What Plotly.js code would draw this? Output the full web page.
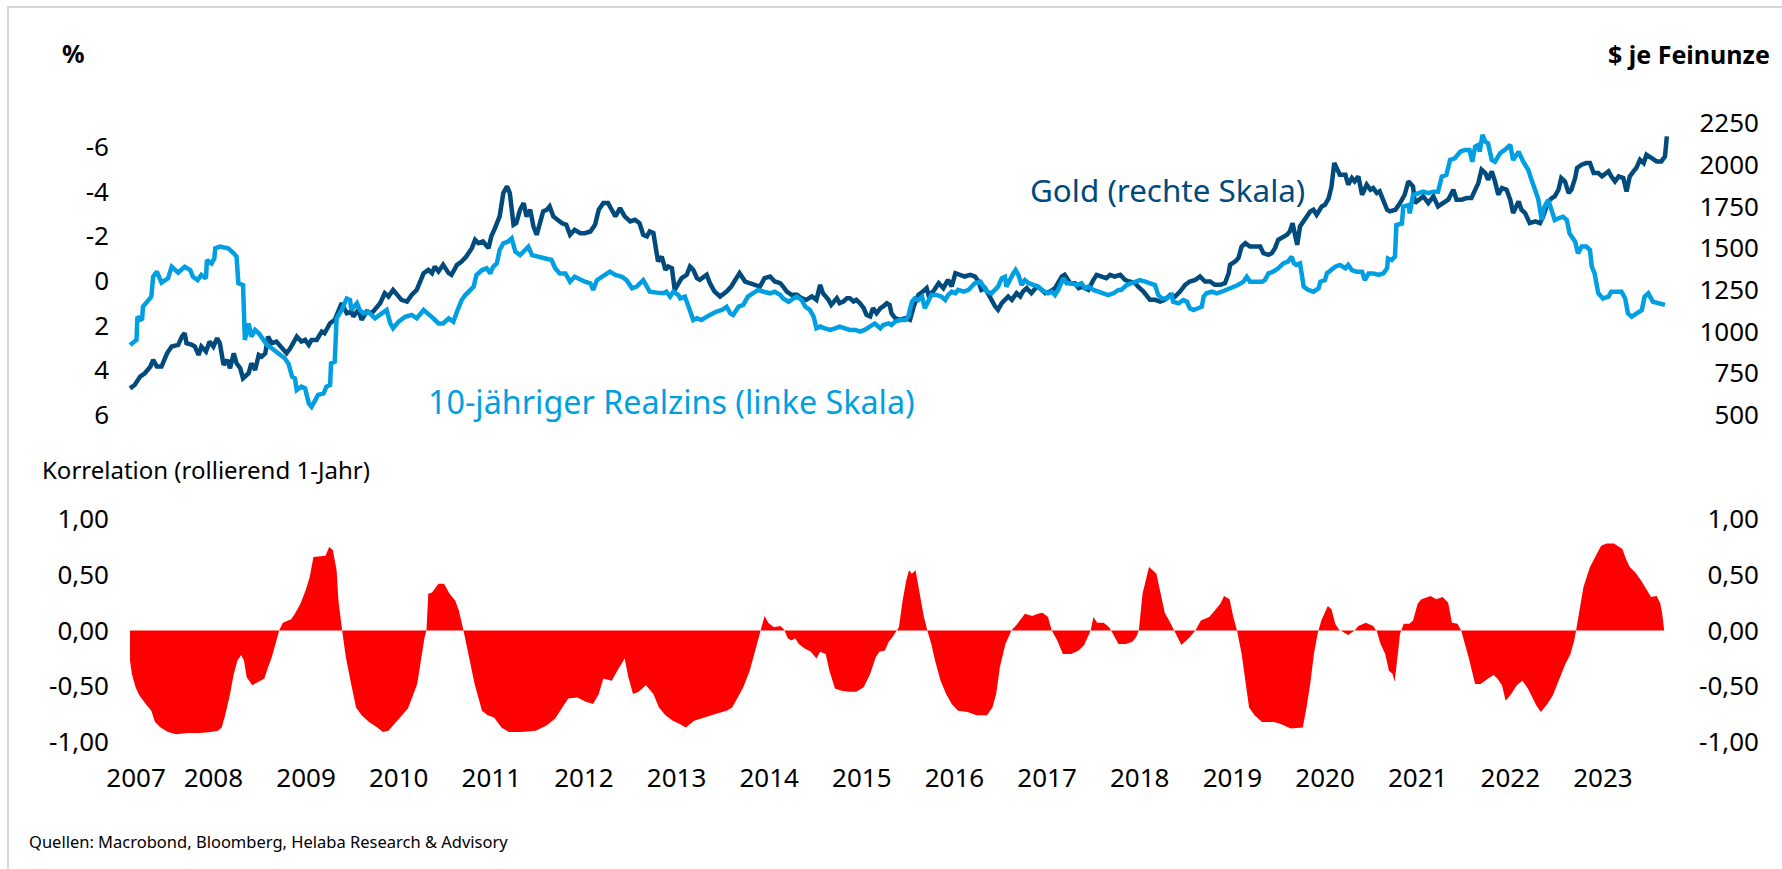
<!DOCTYPE html>
<html>
<head>
<meta charset="utf-8">
<script src="https://cdn.plot.ly/plotly-3.0.1.min.js"></script>
<style>
html,body{margin:0;padding:0;background:#fff;overflow:hidden;}
#chart{width:1782px;height:869px;}
#frame{position:absolute;left:7px;top:6px;width:1800px;height:900px;border-left:2px solid #d6d6d6;border-top:2px solid #d6d6d6;pointer-events:none;}
</style>
</head>
<body>
<div id="chart"></div>
<div id="frame"></div>
<script>
// ---- Data (decimal years) ----
const rateT = [2007.60,2007.67,2007.68,2007.73,2007.74,2007.78,2007.83,2007.85,2007.89,2007.94,2008.01,2008.05,2008.12,2008.19,2008.25,2008.28,2008.33,2008.37,2008.42,2008.43,2008.48,2008.51,2008.52,2008.57,2008.66,2008.72,2008.75,2008.77,2008.82,2008.84,2008.88,2008.91,2008.95,2008.99,2009.04,2009.08,2009.13,2009.18,2009.22,2009.27,2009.31,2009.35,2009.38,2009.40,2009.45,2009.49,2009.53,2009.56,2009.60,2009.63,2009.69,2009.72,2009.76,2009.77,2009.81,2009.83,2009.885,2009.94,2009.975,2009.99,2010.05,2010.08,2010.12,2010.17,2010.245,2010.30,
2010.37,2010.41,2010.44,2010.50,2010.57,2010.64,2010.695,2010.77,2010.82,2010.875,2010.93,2010.98,2011.04,2011.09,2011.13,2011.18,2011.22,2011.27,2011.31,2011.34,2011.40,2011.45,2011.49,2011.52,2011.56,2011.59,2011.63,2011.68,2011.72,2011.76,2011.81,2011.865,2011.90,2011.94,2012.01,2012.08,2012.15,2012.19,2012.24,2012.30,2012.35,2012.40,2012.46,2012.51,2012.57,2012.60,2012.64,2012.69,2012.75,2012.78,2012.84,2012.91,2012.96,2013.00,2013.02,
2013.07,2013.14,2013.18,2013.21,2013.285,2013.36,2013.39,2013.43,2013.465,2013.52,2013.54,2013.59,2013.63,2013.66,2013.68,2013.72,2013.77,2013.825,2013.88,2013.93,2013.99,2014.04,2014.08,2014.11,2014.17,2014.22,2014.27,2014.33,2014.38,2014.44,2014.51,2014.56,2014.62,2014.65,2014.71,2014.76,2014.80,2014.85,2014.89,2014.94,2014.98,2015.01,2015.05,2015.10,2015.16,2015.21,2015.26,2015.32,2015.37,2015.43,2015.48,2015.53,2015.59,2015.64,2015.70,2015.73,2015.79,
2015.82,2015.86,2015.91,2015.97,2016.00,2016.04,2016.07,2016.11,2016.15,2016.18,2016.22,2016.25,2016.31,2016.36,2016.40,2016.43,2016.47,2016.51,2016.54,2016.60,2016.65,2016.69,2016.72,2016.78,2016.81,2016.85,2016.90,2016.94,2016.97,2017.01,2017.045,2017.06,2017.10,2017.135,2017.16,2017.19,2017.225,2017.26,2017.30,2017.35,2017.405,2017.44,2017.48,2017.51,2017.55,2017.585,2017.62,2017.675,2017.71,2017.765,2017.82,2017.87,2017.91,2017.945,2018.00,2018.05,2018.11,2018.16,2018.215,2018.27,2018.30,2018.36,2018.41,2018.47,
2018.50,2018.56,2018.61,2018.665,2018.70,2018.74,2018.79,2018.845,2018.86,2018.92,2018.97,2019.01,2019.04,2019.08,2019.13,2019.17,2019.19,2019.22,2019.28,2019.33,2019.385,2019.44,2019.51,2019.56,2019.62,2019.655,2019.69,2019.745,2019.82,2019.85,2019.89,2019.94,2019.995,2020.05,2020.10,2020.14,2020.165,2020.19,2020.23,2020.27,2020.32,2020.375,2020.43,2020.45,2020.50,2020.52,2020.57,2020.61,2020.66,2020.72,2020.75,2020.79,2020.84,2020.90,2020.93,2020.97,2021.02,2021.08,2021.13,2021.17,2021.18,2021.22,2021.255,
2021.27,2021.33,2021.345,2021.40,2021.415,2021.45,2021.51,2021.56,2021.615,2021.67,2021.72,2021.76,2021.81,2021.85,2021.90,2021.96,2022.01,2022.06,2022.09,2022.12,2022.155,2022.17,2022.20,2022.23,2022.26,2022.30,2022.335,2022.39,2022.44,2022.50,2022.53,2022.59,2022.64,2022.695,2022.73,2022.77,2022.80,2022.84,2022.87,2022.91,2022.95,2022.98,2023.02,2023.07,2023.11,2023.14,2023.20,2023.23,2023.27,2023.32,2023.36,2023.38,2023.41,2023.45,2023.50,2023.56,2023.59,2023.65,2023.70,2023.74,2023.77,2023.81,2023.86,2023.92,2023.95,2023.99,2024.04,2024.10,2024.13,2024.17];
const rateV = [2.87,2.64,1.60,1.75,1.15,0.93,0.70,-0.19,-0.42,0.07,-0.12,-0.64,-0.37,-0.64,-0.49,-0.19,-0.04,-0.27,-0.12,-0.94,-0.79,-1.01,-1.46,-1.54,-1.46,-1.24,-1.09,0.10,0.18,2.64,1.90,2.49,2.19,2.34,2.64,2.87,3.01,3.16,3.31,3.46,3.69,4.28,4.36,4.88,4.73,4.81,5.48,5.63,5.33,5.10,5.03,4.73,4.66,3.69,3.61,1.67,1.30,0.78,0.85,1.30,1.00,1.30,1.45,1.37,1.67,1.50,
1.30,1.90,2.12,1.82,1.60,1.52,1.67,1.30,1.45,1.67,1.90,1.90,1.67,1.82,1.37,0.85,0.63,0.40,0.25,-0.27,-0.49,-0.57,-0.34,-0.64,-0.79,-1.39,-1.69,-1.76,-1.91,-1.31,-1.16,-1.39,-1.54,-1.16,-1.09,-1.01,-0.94,-0.57,-0.34,-0.34,0.03,-0.19,-0.04,0.03,0.10,0.40,-0.04,-0.19,-0.34,-0.42,-0.27,-0.19,-0.04,0.18,0.33,
0.25,-0.04,0.25,0.48,0.52,0.55,0.48,0.70,0.48,0.63,0.78,0.70,1.15,1.45,1.75,1.67,1.75,1.60,1.45,1.37,1.30,1.15,1.45,1.52,1.15,1.07,0.70,0.55,0.40,0.48,0.55,0.48,0.63,0.78,0.93,0.78,0.70,0.85,1.15,1.30,1.60,2.12,2.04,2.12,2.19,2.12,2.04,2.12,2.19,2.19,2.27,2.19,2.04,1.90,2.12,1.97,1.90,
1.97,1.82,1.75,1.75,1.60,0.93,0.78,0.85,0.70,1.22,0.85,0.63,0.63,0.70,0.85,0.63,0.48,0.55,0.40,0.48,0.40,0.25,0.10,0.03,0.25,0.48,0.55,0.40,0.25,-0.12,-0.19,0.25,-0.12,-0.34,-0.49,-0.27,0.18,-0.04,0.10,0.18,0.25,0.40,0.48,0.55,0.48,0.63,0.40,-0.12,0.10,0.10,0.18,0.10,0.33,0.25,0.40,0.48,0.55,0.63,0.55,0.40,0.40,0.18,0.10,0.03,
-0.04,0.03,0.10,0.18,0.63,0.78,0.78,0.63,0.93,1.00,0.85,0.93,1.22,1.30,1.22,1.15,0.70,0.55,0.48,0.55,0.48,0.40,0.25,0.18,0.03,-0.19,0.03,0.03,0.03,-0.04,-0.34,-0.42,-0.57,-0.79,-0.87,-1.09,-0.79,-0.72,-0.79,0.25,0.40,0.48,0.33,0.03,-0.04,-0.34,-0.49,-0.64,-0.72,-0.57,-0.72,-0.49,-0.42,-0.42,-0.04,-0.34,-0.34,-0.27,-0.34,-0.57,-1.01,-0.94,-1.09,
-2.51,-2.58,-3.33,-3.40,-3.03,-3.85,-3.93,-4.00,-3.93,-4.00,-4.00,-4.67,-4.75,-5.42,-5.49,-5.79,-5.87,-5.87,-5.34,-6.01,-6.09,-5.79,-6.54,-6.24,-6.16,-5.42,-5.34,-5.72,-5.87,-6.09,-5.42,-5.79,-5.34,-4.97,-4.52,-4.07,-3.70,-2.73,-3.33,-3.63,-3.03,-2.73,-2.81,-2.88,-2.73,-2.13,-1.76,-1.24,-1.54,-1.54,-1.39,-0.64,-0.34,0.55,0.78,0.70,0.48,0.48,0.48,0.78,1.45,1.60,1.45,1.30,0.70,0.55,0.93,1.00,1.00,1.07];

const goldT = [2007.60,2007.65,2007.71,2007.76,2007.82,2007.85,2007.89,2007.94,2008.00,2008.05,2008.12,2008.16,2008.19,2008.21,2008.27,2008.30,2008.34,2008.37,2008.42,2008.46,2008.50,2008.54,2008.57,2008.61,2008.65,2008.68,2008.72,2008.75,2008.79,2008.82,2008.88,2008.91,2008.95,2008.99,2009.02,2009.06,2009.09,2009.13,2009.18,2009.24,2009.29,2009.33,2009.40,2009.45,2009.49,2009.53,2009.56,2009.615,2009.67,2009.70,2009.76,2009.81,2009.885,2009.94,2009.99,2010.01,2010.065,2010.10,2010.155,2010.21,2010.26,2010.30,2010.35,
2010.39,2010.44,2010.48,2010.53,2010.59,2010.64,2010.695,2010.77,2010.82,2010.86,2010.89,2010.93,2010.98,2011.04,2011.07,2011.13,2011.18,2011.23,2011.29,2011.325,2011.36,2011.41,2011.47,2011.50,2011.54,2011.59,2011.63,2011.67,2011.70,2011.72,2011.74,2011.77,2011.81,2011.85,2011.88,2011.92,2011.955,2011.99,2012.03,2012.06,2012.10,2012.13,2012.17,2012.21,2012.26,2012.31,2012.35,2012.40,2012.46,2012.51,2012.57,2012.62,2012.66,2012.71,2012.76,2012.80,2012.84,2012.89,2012.94,2013.00,2013.05,
2013.10,2013.14,2013.18,2013.21,2013.25,2013.285,2013.30,2013.34,2013.38,2013.41,2013.45,2013.48,2013.52,2013.555,2013.61,2013.645,2013.68,2013.72,2013.75,2013.79,2013.825,2013.86,2013.91,2013.97,2014.00,2014.04,2014.09,2014.15,2014.18,2014.24,2014.29,2014.35,2014.40,2014.45,2014.51,2014.56,2014.62,2014.65,2014.69,2014.74,2014.80,2014.85,2014.90,2014.96,2015.01,2015.05,2015.08,2015.14,2015.17,2015.23,2015.26,2015.30,2015.34,2015.37,2015.41,2015.44,2015.48,2015.52,2015.55,2015.59,2015.62,2015.66,2015.70,2015.73,2015.77,2015.80,
2015.82,2015.86,2015.91,2015.97,2016.02,2016.06,2016.11,2016.16,2016.20,2016.22,2016.27,2016.33,2016.38,2016.43,2016.47,2016.51,2016.56,2016.61,2016.67,2016.72,2016.76,2016.79,2016.83,2016.87,2016.90,2016.94,2016.97,2017.01,2017.045,2017.08,2017.12,2017.17,2017.21,2017.24,2017.28,2017.33,2017.39,2017.42,2017.48,2017.53,2017.585,2017.62,2017.66,2017.69,2017.75,2017.80,2017.84,2017.89,2017.945,2018.00,2018.035,2018.09,2018.14,2018.18,2018.23,2018.29,2018.34,2018.39,2018.45,2018.48,2018.54,2018.61,
2018.665,2018.72,2018.77,2018.83,2018.88,2018.935,2018.99,2019.04,2019.10,2019.15,2019.205,2019.26,2019.31,2019.37,2019.42,2019.46,2019.475,2019.53,2019.565,2019.60,2019.64,2019.69,2019.745,2019.80,2019.835,2019.89,2019.925,2019.96,2019.995,2020.03,2020.09,2020.12,2020.15,2020.18,2020.20,2020.23,2020.27,2020.30,2020.34,2020.375,2020.41,2020.465,2020.50,2020.54,2020.57,2020.60,2020.63,2020.66,2020.72,2020.75,2020.79,2020.82,2020.86,2020.90,2020.95,2020.99,2021.02,2021.06,2021.09,2021.13,2021.17,2021.20,2021.26,2021.31,2021.36,
2021.40,2021.45,2021.47,2021.51,2021.56,2021.615,2021.67,2021.72,2021.78,2021.83,2021.885,2021.92,2021.975,2022.03,2022.08,2022.12,2022.155,2022.19,2022.23,2022.26,2022.30,2022.335,2022.37,2022.41,2022.46,2022.50,2022.53,2022.59,2022.62,2022.66,2022.71,2022.77,2022.82,2022.855,2022.91,2022.95,2022.98,2023.02,2023.05,2023.09,2023.13,2023.16,2023.20,2023.22,2023.27,2023.32,2023.36,2023.40,2023.45,2023.49,2023.52,2023.56,2023.59,2023.63,2023.67,2023.72,2023.755,2023.79,2023.83,2023.86,2023.90,2023.94,2023.97,2024.03,2024.08,2024.13,2024.17,2024.19];
const goldV = [660,680,730,750,790,830,790,790,870,910,920,970,990,930,920,910,860,910,880,940,910,960,930,800,830,780,870,810,780,720,750,810,770,860,850,870,970,930,940,900,870,900,970,940,950,920,950,950,1000,990,1050,1070,1170,1110,1120,1090,1130,1070,1120,1110,1140,1170,1230,
1210,1250,1220,1190,1180,1220,1250,1350,1370,1350,1390,1360,1400,1350,1340,1400,1420,1450,1500,1550,1530,1540,1500,1570,1620,1690,1830,1870,1830,1730,1640,1650,1730,1770,1690,1730,1630,1580,1650,1720,1730,1750,1690,1670,1650,1640,1580,1610,1590,1590,1600,1640,1730,1770,1770,1730,1690,1740,1690,1660,1670,
1650,1580,1570,1600,1590,1470,1420,1450,1370,1390,1380,1250,1290,1320,1340,1390,1370,1320,1310,1330,1340,1290,1240,1210,1220,1240,1270,1320,1350,1300,1290,1280,1270,1320,1330,1300,1290,1270,1240,1220,1220,1200,1190,1210,1190,1280,1230,1190,1160,1200,1170,1180,1200,1200,1180,1190,1170,1140,1100,1090,1140,1110,1140,1150,1170,1160,
1110,1080,1070,1080,1070,1150,1220,1240,1260,1220,1240,1290,1260,1310,1270,1350,1340,1330,1340,1330,1300,1250,1260,1220,1180,1150,1130,1170,1190,1210,1190,1230,1210,1240,1260,1230,1270,1260,1230,1240,1260,1290,1330,1340,1290,1290,1260,1270,1250,1310,1340,1330,1320,1340,1330,1340,1310,1300,1290,1270,1240,1190,
1190,1180,1190,1220,1210,1240,1280,1300,1310,1330,1300,1300,1280,1280,1290,1350,1400,1420,1440,1510,1530,1510,1510,1510,1470,1460,1470,1500,1550,1560,1580,1600,1650,1570,1520,1630,1660,1690,1720,1730,1700,1750,1760,1800,1870,2010,1980,1940,1940,1880,1920,1900,1930,1820,1880,1850,1860,1830,1840,1790,1730,1720,1730,1770,1820,
1900,1870,1770,1790,1810,1770,1810,1750,1770,1790,1850,1790,1790,1800,1800,1850,1890,1970,1950,1910,1960,1900,1820,1860,1850,1790,1710,1780,1730,1710,1650,1660,1650,1690,1780,1800,1810,1850,1920,1900,1830,1850,1920,1980,2000,2010,2010,1950,1950,1930,1940,1960,1930,1900,1930,1920,1840,1930,1960,1980,2030,2010,2060,2040,2020,2020,2050,2170];

const corrT = [2007.60,2007.62,2007.66,2007.70,2007.77,2007.83,2007.87,2007.93,2008.01,2008.10,2008.22,2008.35,2008.47,2008.55,2008.59,2008.63,2008.68,2008.72,2008.76,2008.80,2008.83,2008.86,2008.92,2008.98,2009.05,2009.09,2009.13,2009.17,2009.21,2009.25,2009.34,2009.38,2009.44,2009.50,2009.54,2009.58,2009.67,2009.71,2009.75,2009.79,2009.83,2009.85,2009.89,2009.93,2009.98,2010.04,2010.10,2010.18,2010.27,2010.33,2010.39,2010.45,2010.53,2010.60,2010.66,2010.70,2010.74,2010.78,2010.80,2010.82,2010.86,2010.93,2010.99,2011.05,2011.11,2011.15,2011.20,2011.26,2011.32,2011.40,2011.46,2011.53,2011.61,2011.69,2011.82,2011.98,2012.10,2012.19,2012.27,2012.33,2012.43,2012.52,2012.60,2012.66,
2012.71,2012.80,2012.86,2012.90,2012.94,2012.98,2013.03,2013.09,2013.17,2013.25,2013.31,2013.38,2013.46,2013.54,2013.60,2013.69,2013.79,2013.91,2014.04,2014.10,2014.16,2014.22,2014.29,2014.35,2014.41,2014.45,2014.49,2014.55,2014.62,2014.66,2014.70,2014.74,2014.78,2014.82,2014.88,2014.95,2015.01,2015.05,2015.11,2015.15,2015.21,2015.28,2015.36,2015.44,2015.52,2015.59,2015.65,2015.69,2015.75,2015.79,2015.83,2015.90,2015.94,2015.98,2016.01,2016.04,2016.08,2016.12,2016.17,2016.21,2016.25,2016.29,2016.35,2016.41,2016.47,2016.54,2016.64,2016.74,2016.85,2016.91,2016.95,2016.99,2017.05,2017.115,2017.18,2017.26,2017.34,2017.40,2017.45,2017.51,2017.55,2017.61,2017.67,2017.76,2017.84,2017.90,2017.94,2017.97,2018.00,2018.04,2018.11,2018.17,2018.21,2018.27,2018.35,2018.42,2018.46,2018.49,2018.53,2018.60,2018.68,2018.73,2018.77,2018.83,2018.87,2018.95,
2019.04,2019.10,2019.16,2019.25,2019.31,2019.37,2019.41,2019.47,2019.51,2019.55,2019.60,2019.64,2019.68,2019.74,2019.82,2019.95,2020.03,2020.13,2020.26,2020.30,2020.34,2020.38,2020.42,2020.46,2020.53,2020.57,2020.61,2020.65,2020.69,2020.75,2020.82,2020.86,2020.94,2021.02,2021.06,2021.10,2021.15,2021.19,2021.23,2021.25,2021.27,2021.31,2021.35,2021.41,2021.45,2021.50,2021.54,2021.64,2021.70,2021.77,2021.83,2021.87,2021.93,2021.97,2022.01,2022.05,2022.12,2022.18,2022.26,2022.32,2022.36,2022.41,2022.45,2022.51,2022.57,2022.63,2022.69,2022.74,2022.78,2022.83,2022.90,2022.96,2023.02,2023.09,2023.15,2023.19,2023.21,2023.25,2023.29,2023.36,2023.42,2023.48,2023.54,2023.62,2023.71,2023.75,2023.79,2023.85,2023.91,2023.98,2024.02,2024.08,2024.12,2024.14,2024.16];
const corrV = [-0.27,-0.39,-0.51,-0.58,-0.66,-0.72,-0.82,-0.87,-0.91,-0.93,-0.92,-0.92,-0.91,-0.90,-0.87,-0.75,-0.57,-0.39,-0.27,-0.22,-0.27,-0.42,-0.49,-0.46,-0.43,-0.33,-0.24,-0.12,0.00,0.07,0.10,0.15,0.24,0.37,0.48,0.66,0.67,0.67,0.75,0.72,0.54,0.27,0.00,-0.24,-0.45,-0.69,-0.76,-0.82,-0.87,-0.91,-0.90,-0.84,-0.76,-0.70,-0.57,-0.48,-0.27,-0.06,0.00,0.33,0.34,0.42,0.42,0.33,0.27,0.18,0.00,-0.24,-0.48,-0.72,-0.76,-0.78,-0.87,-0.91,-0.91,-0.90,-0.85,-0.79,-0.69,-0.61,-0.60,-0.64,-0.66,-0.57,
-0.43,-0.45,-0.36,-0.30,-0.25,-0.42,-0.57,-0.55,-0.49,-0.57,-0.69,-0.76,-0.81,-0.84,-0.87,-0.81,-0.78,-0.75,-0.72,-0.69,-0.60,-0.51,-0.36,-0.18,-0.01,0.13,0.07,0.03,0.04,0.01,-0.07,-0.09,-0.07,-0.12,-0.16,-0.19,-0.25,-0.19,-0.21,-0.36,-0.52,-0.54,-0.55,-0.55,-0.51,-0.39,-0.24,-0.19,-0.18,-0.10,-0.06,0.03,0.27,0.45,0.54,0.51,0.54,0.36,0.12,-0.01,-0.12,-0.27,-0.45,-0.57,-0.66,-0.72,-0.73,-0.76,-0.76,-0.69,-0.57,-0.33,-0.12,0.00,0.06,0.15,0.13,0.15,0.16,0.12,0.00,-0.09,-0.21,-0.21,-0.18,-0.13,-0.06,0.00,0.12,0.07,0.07,0.03,-0.03,-0.12,-0.12,-0.10,-0.06,0.00,0.33,0.57,0.51,0.33,0.16,0.07,0.00,-0.13,
-0.06,0.00,0.09,0.12,0.18,0.24,0.31,0.28,0.12,0.00,-0.21,-0.45,-0.69,-0.76,-0.82,-0.82,-0.84,-0.88,-0.87,-0.69,-0.48,-0.21,-0.03,0.09,0.22,0.19,0.06,0.01,-0.01,-0.04,0.00,0.04,0.07,0.04,-0.01,-0.12,-0.21,-0.36,-0.39,-0.46,-0.33,-0.03,0.06,0.06,0.09,0.24,0.28,0.31,0.28,0.30,0.25,0.07,0.06,0.00,-0.12,-0.24,-0.48,-0.48,-0.43,-0.40,-0.43,-0.49,-0.63,-0.57,-0.49,-0.45,-0.52,-0.61,-0.67,-0.73,-0.66,-0.58,-0.46,-0.31,-0.21,-0.09,0.00,0.21,0.39,0.57,0.67,0.76,0.78,0.78,0.73,0.64,0.57,0.52,0.45,0.36,0.30,0.31,0.24,0.15,0.01];

// ---- Ticks ----
const yearVals = [2007.665,2008.5,2009.5,2010.5,2011.5,2012.5,2013.5,2014.5,2015.5,2016.5,2017.5,2018.5,2019.5,2020.5,2021.5,2022.5,2023.5];
const yearText = ['2007','2008','2009','2010','2011','2012','2013','2014','2015','2016','2017','2018','2019','2020','2021','2022','2023'];
const rateTicks = [-6,-4,-2,0,2,4,6];
const rateTickText = ['-6','-4','-2','0','2','4','6'];
const goldTicks = [500,750,1000,1250,1500,1750,2000,2250];
const corrTicks = [-1,-0.5,0,0.5,1];
const corrTickText = ['-1,00','-0,50','0,00','0,50','1,00'];

// ---- Layout helpers ----
const W = 1782, H = 869;
const px = v => v / W;
const py = v => 1 - v / H;
const FONT = 'Noto Sans, sans-serif';
const DARK = '#004a7c';
const LIGHT = '#009fe3';
const tickFont = {family: FONT, size: 26, color: '#000'};

const axCommon = {showgrid:false, zeroline:false, showline:false, ticks:'', fixedrange:true};

const traces = [
  {x: corrT, y: corrV, xaxis:'x', yaxis:'y3', type:'scatter', mode:'lines', fill:'tozeroy',
   fillcolor:'#ff0000', line:{width:0, color:'#ff0000'}, hoverinfo:'skip', showlegend:false},
  {x: corrT, y: corrV, xaxis:'x', yaxis:'y4', type:'scatter', mode:'lines', opacity:0,
   line:{width:0}, hoverinfo:'skip', showlegend:false},
  {x: goldT, y: goldV, xaxis:'x', yaxis:'y', type:'scatter', mode:'lines',
   line:{color:DARK, width:4.5}, hoverinfo:'skip', showlegend:false},
  {x: rateT, y: rateV, xaxis:'x', yaxis:'y2', type:'scatter', mode:'lines',
   line:{color:LIGHT, width:4.5}, hoverinfo:'skip', showlegend:false}
];

const layout = {
  width: W, height: H,
  margin: {l:0, r:0, t:0, b:0, pad:0},
  paper_bgcolor:'rgba(0,0,0,0)', plot_bgcolor:'rgba(0,0,0,0)',
  showlegend:false,
  font:{family:FONT, color:'#000'},
  xaxis: Object.assign({}, axCommon, {
    domain:[px(115), px(1680)], range:[2007.438, 2024.332], anchor:'y3',
    tickmode:'array', tickvals:yearVals, ticktext:yearText, tickfont:tickFont
  }),
  yaxis: Object.assign({}, axCommon, {
    domain:[py(415), py(123)], range:[500, 2250], anchor:'free', position:px(1759), side:'left',
    tickmode:'array', tickvals:goldTicks, tickfont:tickFont
  }),
  yaxis2: Object.assign({}, axCommon, {
    overlaying:'y', range:[6, -7.076], anchor:'free', position:px(109), side:'left',
    tickmode:'array', tickvals:rateTicks, ticktext:rateTickText, tickfont:tickFont
  }),
  yaxis3: Object.assign({}, axCommon, {
    domain:[py(760), py(519)], range:[-1.1614, 1.0], anchor:'free', position:px(109), side:'left',
    tickmode:'array', tickvals:corrTicks, ticktext:corrTickText, tickfont:tickFont
  }),
  yaxis4: Object.assign({}, axCommon, {
    overlaying:'y3', range:[-1.1614, 1.0], anchor:'free', position:px(1759), side:'left',
    tickmode:'array', tickvals:corrTicks, ticktext:corrTickText, tickfont:tickFont
  }),
  annotations: [
    {text:'<b>%</b>', xref:'paper', yref:'paper', x:px(60), y:py(53), xanchor:'left', yanchor:'middle',
     showarrow:false, font:{family:FONT, size:25, color:'#000'}},
    {text:'<b>$ je Feinunze</b>', xref:'paper', yref:'paper', x:px(1772), y:py(54), xanchor:'right', yanchor:'middle',
     showarrow:false, font:{family:FONT, size:25, color:'#000'}},
    {text:'Gold (rechte Skala)', xref:'paper', yref:'paper', x:px(1028), y:py(189), xanchor:'left', yanchor:'middle',
     showarrow:false, font:{family:FONT, size:31.4, color:DARK}},
    {text:'10-jähriger Realzins (linke Skala)', xref:'paper', yref:'paper', x:px(426), y:py(401), xanchor:'left', yanchor:'middle',
     showarrow:false, font:{family:FONT, size:32.3, color:LIGHT}},
    {text:'Korrelation (rollierend 1-Jahr)', xref:'paper', yref:'paper', x:px(40), y:py(470), xanchor:'left', yanchor:'middle',
     showarrow:false, font:{family:FONT, size:24, color:'#000'}},
    {text:'Quellen: Macrobond, Bloomberg, Helaba Research &amp; Advisory', xref:'paper', yref:'paper', x:px(27), y:py(841), xanchor:'left', yanchor:'middle',
     showarrow:false, font:{family:FONT, size:16.5, color:'#000'}}
  ]
};

Plotly.newPlot('chart', traces, layout, {displayModeBar:false, staticPlot:true});
</script>
</body>
</html>
